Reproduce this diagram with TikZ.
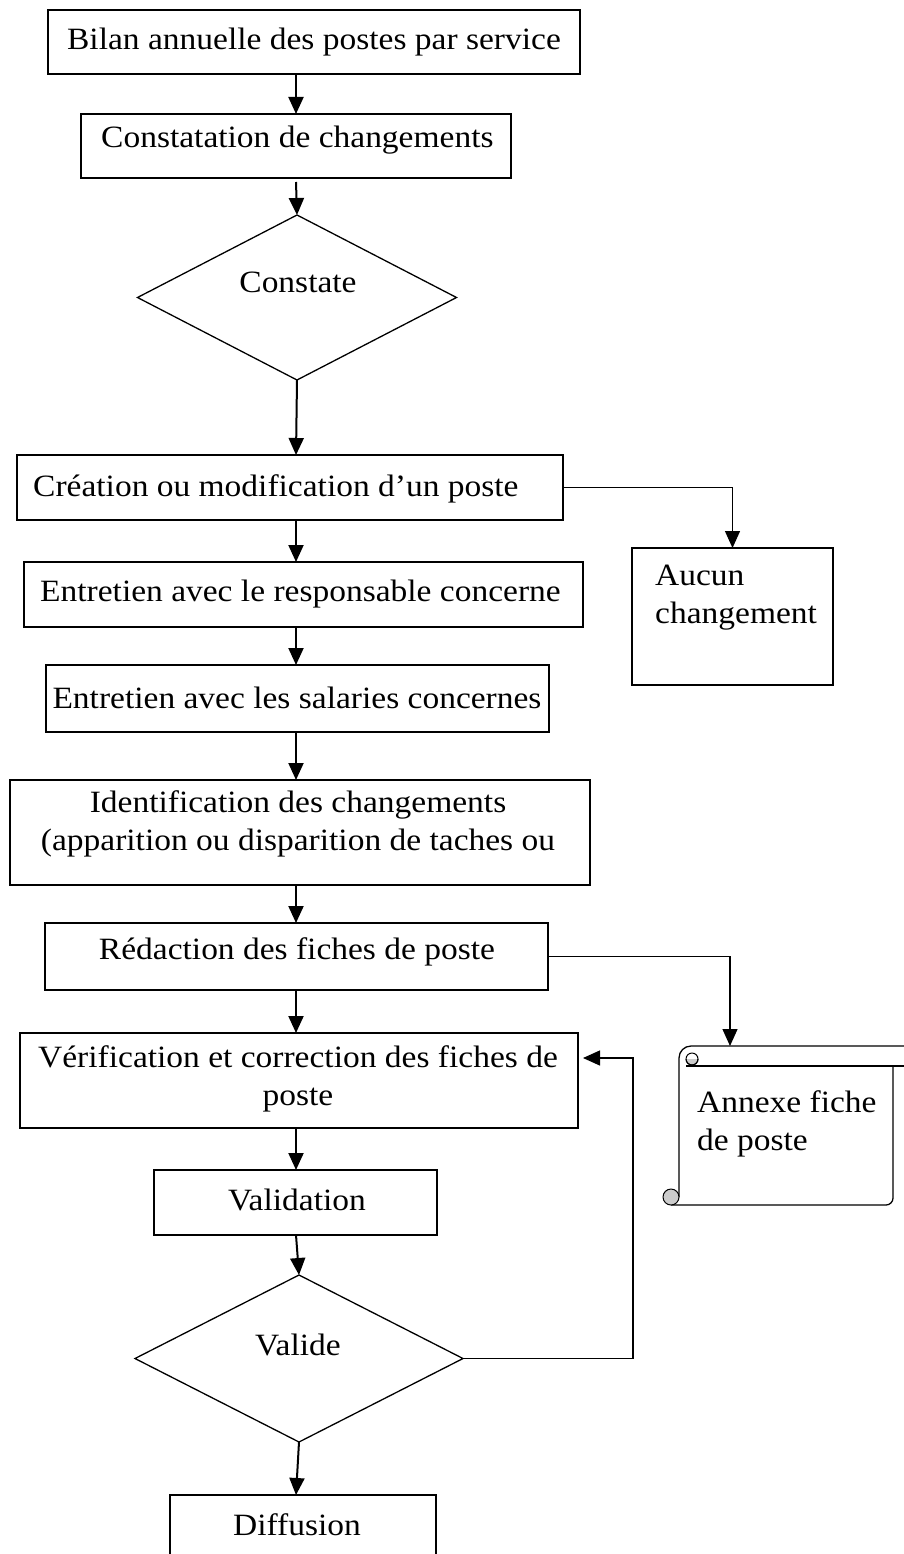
\documentclass[tikz,border=0pt]{standalone}
\usepackage{fontspec}
\setmainfont[FakeStretch=1.08]{Liberation Serif}
\usetikzlibrary{shapes.geometric,arrows.meta}
\begin{document}
\begin{tikzpicture}[x=1pt,y=-1pt,
  box/.style={draw,line width=1.3pt,inner sep=0pt,outer sep=0pt,anchor=north west},
  dia/.style={draw,diamond,line width=1.3pt,inner sep=0pt,outer sep=0pt},
  tip/.style={-{Triangle[length=17pt,width=15pt]}},
  arr/.style={line width=2pt,tip},
  ln/.style={line width=1.3pt},
  lbl/.style={font=\fontsize{31}{38}\selectfont,inner sep=0pt,align=center},
  lbll/.style={font=\fontsize{31}{38}\selectfont,inner sep=0pt,align=left}]
\clip (0,0) rectangle (904,1554);
\fill[white] (0,0) rectangle (904,1554);
\coordinate (axis) at (296,0);
% boxes
\node[box,minimum width=532pt,minimum height=64pt] (b1) at (48,10) {};
\node[lbl] (t1) at (314,42) {Bilan annuelle des postes par service};
\node[box,minimum width=430pt,minimum height=64pt] (b2) at (81,114) {};
\node[lbll,anchor=west] (t2) at (101,140) {Constatation de changements};
\node[dia,minimum width=319pt,minimum height=165pt] (d1) at (297,297.5) {};
\node[lbl] (t3) at (298,282) {Constate};
\node[box,minimum width=546pt,minimum height=65pt] (b3) at (17,455) {};
\node[lbll,anchor=west] (t4) at (33,489) {Création ou modification d’un poste};
\node[box,minimum width=201pt,minimum height=137pt] (ac) at (632,548) {};
\node[lbll,anchor=north west] (t5) at (655,565) {Aucun\\changement};
\node[box,minimum width=559pt,minimum height=65pt] (b4) at (24,562) {};
\node[lbll,anchor=west] (t6) at (40,594) {Entretien avec le responsable concerne};
\node[box,minimum width=503pt,minimum height=67pt] (b5) at (46,665) {};
\node[lbl] (t7) at (297,698) {Entretien avec les salaries concernes};
\node[box,minimum width=580pt,minimum height=105pt] (b6) at (10,780) {};
\node[lbl,anchor=north] (t8) at (298,790) {Identification des changements\\(apparition ou disparition de taches ou};
\node[box,minimum width=503pt,minimum height=67pt] (b7) at (45,923) {};
\node[lbl] (t9) at (297,952) {Rédaction des fiches de poste};
\node[box,minimum width=558pt,minimum height=95pt] (b8) at (20,1033) {};
\node[lbl,anchor=north] (t10) at (298,1045) {Vérification et correction des fiches de\\poste};
\node[box,minimum width=283pt,minimum height=65pt] (b9) at (154,1170) {};
\node[lbl] (t11) at (297,1200) {Validation};
\node[dia,minimum width=328pt,minimum height=167pt] (d2) at (299,1358.5) {};
\node[lbl] (t12) at (298,1345) {Valide};
\node[box,minimum width=266pt,minimum height=80pt] (b10) at (170,1495) {};
\node[lbl] (t13) at (297,1525) {Diffusion};
% scroll
\coordinate (st) at (730,1046);
\draw[ln,rounded corners=12pt] (679,1197) -- (679,1046) -- (915,1046);
\draw[ln] (686,1066) -- (915,1066);
\begin{scope}
  \clip (680,1059) rectangle (705,1075);
  \draw[line width=1pt,fill=gray!40] (692,1059) circle (6);
\end{scope}
\draw[line width=1pt] (692,1059) circle (6);
\draw[ln,rounded corners=7pt] (893,1066) -- (893,1205) -- (671,1205);
\draw[line width=1pt,fill=gray!40] (671,1197) circle (8);
\node[lbll,anchor=north west] (t14) at (697,1090) {Annexe fiche\\de poste};
% connectors
\draw[arr] (b1.south -| axis) -- (b2.north -| axis);
\draw[arr] ([yshift=-4pt]b2.south -| axis) -- (d1.north);
\draw[arr] (d1.south) -- (b3.north -| axis);
\draw[ln,tip] (b3.east) -| (ac.north);
\draw[arr] (b3.south -| axis) -- (b4.north -| axis);
\draw[arr] (b4.south -| axis) -- (b5.north -| axis);
\draw[arr] (b5.south -| axis) -- (b6.north -| axis);
\draw[arr] (b6.south -| axis) -- (b7.north -| axis);
\draw[ln,tip] (b7.east) -| (st);
\draw[arr] (b7.south -| axis) -- (b8.north -| axis);
\draw[arr] (b8.south -| axis) -- (b9.north -| axis);
\draw[arr] (b9.south -| axis) -- (d2.north);
\draw[arr] (d2.south) -- (b10.north -| axis);
\coordinate (rc) at (633,1058);
\draw[ln,tip] (d2.east) -| (rc) -- ([xshift=5pt]b8.east |- rc);
\end{tikzpicture}
\end{document}
